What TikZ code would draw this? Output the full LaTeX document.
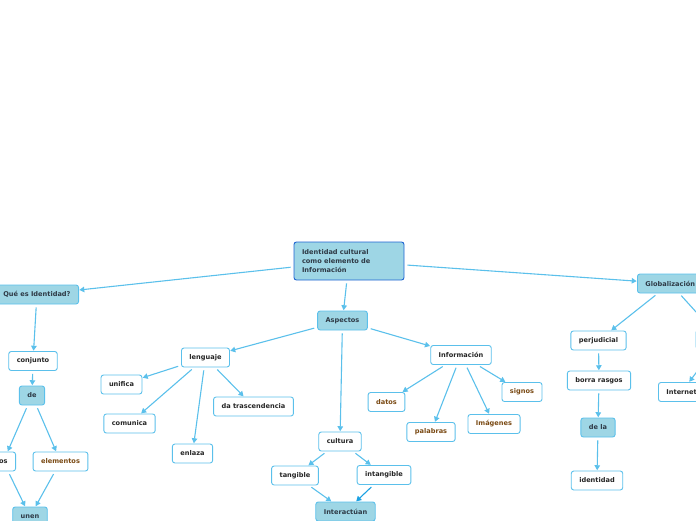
\documentclass[tikz,border=0pt]{standalone}
\usepackage{fontspec}
\setmainfont{DejaVu Sans}
\usetikzlibrary{arrows.meta}
\definecolor{linkblue}{HTML}{5BC0EB}
\definecolor{linkdark}{HTML}{1BA1E2}
\definecolor{topicfill}{HTML}{9ED6E5}
\definecolor{rootedge}{HTML}{1E64D2}
\definecolor{wordbrown}{HTML}{7A4A14}
\definecolor{textgray}{HTML}{2E3A46}

\begin{document}
\begin{tikzpicture}[x=1pt, y=-1pt,
        every node/.style={font=\bfseries\fontsize{6.6}{9}\selectfont},
        leaf/.style={draw=linkblue, fill=white, line width=0.9pt, rounded corners=2.5pt,
            minimum height=19pt, inner xsep=8pt, inner ysep=2pt, text=black!85},
        topic/.style={leaf, fill=topicfill, text=textgray},
        word/.style={leaf, text=wordbrown},
        link/.style={draw=linkblue, line width=1.1pt, -{Triangle[length=5pt,width=5.5pt]},
            shorten <=3pt, shorten >=0.3pt}]
        % Page frame
        \useasboundingbox (0,0) rectangle (696,520);
        \clip (0,0) rectangle (696,520);

        % Central topic
        \node[topic, draw=rootedge, align=left, text width=94pt, minimum height=38pt] (root) at (349,261)
            {Identidad cultural\\como elemento de\\Información};

        % Left branch
        \node[topic, anchor=east] (que) at (79,294.5) {Qué es Identidad?};
        \node[leaf] (conjunto) at (33,361) {conjunto};
        \node[topic] (de) at (32,395.5) {de};
        \node[leaf, anchor=east] (os) at (16,461.5) {os};
        \node[word] (elementos) at (60.5,461.5) {elementos};
        \node[topic] (unen) at (30,516.5) {unen};

        % Middle branch
        \node[topic] (aspectos) at (342.5,320.5) {Aspectos};
        \node[leaf] (lenguaje) at (205.5,357.5) {lenguaje};
        \node[leaf] (unifica) at (121.5,384.5) {unifica};
        \node[leaf] (comunica) at (129.5,423.5) {comunica};
        \node[leaf] (enlaza) at (192.5,453.5) {enlaza};
        \node[leaf] (trasc) at (253.5,406.5) {da trascendencia};
        \node[leaf] (cultura) at (340,441.5) {cultura};
        \node[leaf] (tangible) at (295,475.5) {tangible};
        \node[leaf] (intangible) at (384,475) {intangible};
        \node[topic] (interact) at (345.5,511.5) {Interactúan};
        \node[leaf] (info) at (461,355) {Información};
        \node[word] (datos) at (386.5,402) {datos};
        \node[word] (palabras) at (431,432) {palabras};
        \node[word] (imagenes) at (494,424) {Imágenes};
        \node[word] (signos) at (522,392) {signos};

        % Right branch
        \node[topic, anchor=west] (glob) at (637,283.5) {Globalización};
        \node[leaf] (perjudicial) at (598.5,340.5) {perjudicial};
        \node[leaf] (borra) at (599,380.5) {borra rasgos};
        \node[topic] (dela) at (598,427.5) {de la};
        \node[leaf] (identidad) at (597,480.5) {identidad};
        \node[leaf, minimum width=50pt] (globr) at (721,339.5) {};
        \node[leaf, anchor=west] (internet) at (658,392) {Internet};

        % Connectors
        \foreach \a/\b in {root/que, root/aspectos, root/glob,
                que/conjunto, conjunto/de, de/os, de/elementos, os/unen, elementos/unen,
                aspectos/lenguaje, aspectos/cultura, aspectos/info,
                lenguaje/unifica, lenguaje/comunica, lenguaje/enlaza, lenguaje/trasc,
                cultura/tangible, cultura/intangible, tangible/interact,
                info/datos, info/palabras, info/imagenes, info/signos,
                glob/perjudicial, glob/globr, perjudicial/borra, borra/dela, dela/identidad,
                globr/internet} {
            \draw[link] (\a) -- (\b);
        }
        \draw[link, draw=linkdark] (intangible) -- (interact);
    \end{tikzpicture}
\end{document}
